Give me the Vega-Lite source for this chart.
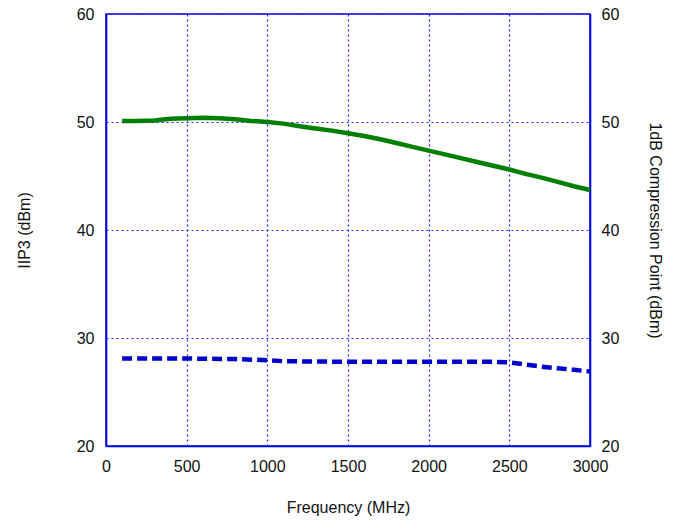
{
  "$schema": "https://vega.github.io/schema/vega-lite/v6.json",
  "autosize": "none",
  "width": 484,
  "height": 432,
  "padding": {"left": 106, "top": 14, "right": 94, "bottom": 79},
  "background": "white",
  "config": {
    "font": "Liberation Sans",
    "view": {"stroke": "#0000dd", "strokeWidth": 1.5},
    "axis": {
      "labelFont": "Liberation Sans",
      "titleFont": "Liberation Sans",
      "labelFontSize": 16,
      "labelColor": "#111111",
      "titleFontSize": 16,
      "titleFontWeight": "normal",
      "titleColor": "#111111",
      "domainColor": "#0000dd",
      "domainWidth": 1.5,
      "ticks": false,
      "format": "d",
      "gridColor": "#2222ff",
      "gridDash": [2, 3],
      "gridWidth": 1.2,
      "gridOpacity": 1
    }
  },
  "datasets": {
    "iip3": [
      {"f": 100, "v": 50.1}, {"f": 200, "v": 50.1}, {"f": 300, "v": 50.15},
      {"f": 400, "v": 50.3}, {"f": 500, "v": 50.35}, {"f": 600, "v": 50.4},
      {"f": 700, "v": 50.35}, {"f": 800, "v": 50.25}, {"f": 900, "v": 50.1},
      {"f": 1000, "v": 50.0}, {"f": 1100, "v": 49.85}, {"f": 1200, "v": 49.6},
      {"f": 1300, "v": 49.4}, {"f": 1400, "v": 49.2}, {"f": 1500, "v": 48.95},
      {"f": 1600, "v": 48.7}, {"f": 1700, "v": 48.4}, {"f": 1800, "v": 48.05},
      {"f": 1900, "v": 47.7}, {"f": 2000, "v": 47.35}, {"f": 2100, "v": 47.0},
      {"f": 2200, "v": 46.65}, {"f": 2300, "v": 46.3}, {"f": 2400, "v": 45.95},
      {"f": 2500, "v": 45.6}, {"f": 2600, "v": 45.2}, {"f": 2700, "v": 44.85},
      {"f": 2800, "v": 44.45}, {"f": 2900, "v": 44.05}, {"f": 3000, "v": 43.7}
    ],
    "p1db": [
      {"f": 100, "v": 28.1}, {"f": 500, "v": 28.1}, {"f": 800, "v": 28.05},
      {"f": 1000, "v": 27.95}, {"f": 1100, "v": 27.85}, {"f": 1500, "v": 27.8},
      {"f": 2000, "v": 27.8}, {"f": 2400, "v": 27.8}, {"f": 2500, "v": 27.75},
      {"f": 2600, "v": 27.55}, {"f": 2700, "v": 27.35}, {"f": 2800, "v": 27.2},
      {"f": 2900, "v": 27.05}, {"f": 3000, "v": 26.9}
    ]
  },
  "layer": [
    {
      "data": {"name": "iip3"},
      "mark": {"type": "line", "color": "#007f00", "strokeWidth": 4.5},
      "encoding": {
        "x": {
          "field": "f", "type": "quantitative",
          "scale": {"domain": [0, 3000], "nice": false, "zero": false},
          "axis": {
            "title": "Frequency (MHz)", "values": [0, 500, 1000, 1500, 2000, 2500, 3000],
            "labelPadding": 12, "titlePadding": 25, "labelFlush": false
          }
        },
        "y": {
          "field": "v", "type": "quantitative",
          "scale": {"domain": [20, 60], "nice": false, "zero": false},
          "axis": {
            "title": "IIP3 (dBm)", "values": [20, 30, 40, 50, 60],
            "labelPadding": 12, "titlePadding": 44, "labelFlush": false
          }
        }
      }
    },
    {
      "data": {"name": "p1db"},
      "mark": {"type": "line", "color": "#0000cc", "strokeWidth": 4.5, "strokeDash": [10, 5]},
      "encoding": {
        "x": {"field": "f", "type": "quantitative"},
        "y": {
          "field": "v", "type": "quantitative",
          "scale": {"domain": [20, 60], "nice": false, "zero": false},
          "axis": {
            "orient": "right", "title": "1dB Compression Point (dBm)",
            "values": [20, 30, 40, 50, 60], "grid": false,
            "labelPadding": 11, "titlePadding": 28, "labelFlush": false
          }
        }
      }
    }
  ],
  "resolve": {"scale": {"y": "independent"}}
}
